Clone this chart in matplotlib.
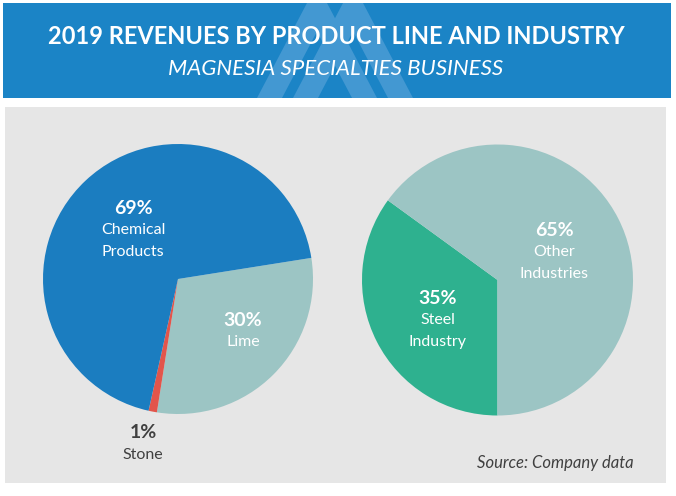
import matplotlib
matplotlib.use("Agg")
import matplotlib.pyplot as plt
from matplotlib.patches import Rectangle, Polygon

# ---- data ----
product_labels = ["Lime", "Stone", "Chemical\nProducts"]
product_values = [30, 1, 69]
industry_labels = ["Steel\nIndustry", "Other\nIndustries"]
industry_values = [35, 65]

title = "2019 REVENUES BY PRODUCT LINE AND INDUSTRY"
subtitle = "MAGNESIA SPECIALTIES BUSINESS"
source = "Source: Company data"

# ---- style ----
BAND = "#1b84c6"
WATER = "#4398d2"
PANEL = "#e6e6e6"
C_CHEM = "#1b7dc0"
C_LIME = "#9cc5c4"
C_STONE = "#e2554b"
C_STEEL = "#2eb18f"
DARK = "#404040"
FONT = "Lato"

W, H = 676, 496
fig = plt.figure(figsize=(W / 100, H / 100), dpi=100)
fig.patch.set_facecolor("white")

bg = fig.add_axes([0, 0, 1, 1])
bg.set_xlim(0, W)
bg.set_ylim(H, 0)
bg.axis("off")

bg.add_patch(Rectangle((3, 3), 668, 95, facecolor=BAND, edgecolor="none"))
for x0 in (257, 293):
    pts = [(x0, 98), (x0 + 50, 3), (x0 + 70, 3), (x0 + 120, 98),
           (x0 + 95, 98), (x0 + 60, 31.5), (x0 + 25, 98)]
    bg.add_patch(Polygon(pts, closed=True, facecolor=WATER, edgecolor="none"))
bg.add_patch(Rectangle((5, 107), 661, 376, facecolor=PANEL, edgecolor="none"))


def pie_axes(cx, cy, r):
    ax = fig.add_axes([(cx - r) / W, (H - cy - r) / H, 2 * r / W, 2 * r / H])
    ax.axis("off")
    return ax


ax1 = pie_axes(178, 279, 135)
ax1.pie(product_values, colors=[C_LIME, C_STONE, C_CHEM], startangle=9,
        counterclock=False, radius=1, center=(0, 0), frame=False,
        wedgeprops=dict(linewidth=0))
ax1.set_xlim(-1, 1)
ax1.set_ylim(-1, 1)

ax2 = pie_axes(497.5, 280, 135.5)
ax2.pie(industry_values, colors=[C_STEEL, C_LIME], startangle=270,
        counterclock=False, radius=1, center=(0, 0), frame=False,
        wedgeprops=dict(linewidth=0))
ax2.set_xlim(-1, 1)
ax2.set_ylim(-1, 1)

# overlay for text, drawn above the pies
ov = fig.add_axes([0, 0, 1, 1])
ov.set_xlim(0, W)
ov.set_ylim(H, 0)
ov.axis("off")
ov.patch.set_alpha(0)

ov.text(336, 36, title, ha="center", va="center", color="white",
        fontsize=17, fontweight="bold", family=FONT)
ov.text(336, 69, subtitle, ha="center", va="center", color="white",
        fontsize=16, style="italic", family=FONT)
ov.text(634, 463, source, ha="right", va="center", color=DARK,
        fontsize=12, style="italic", family=FONT)


def label(x, y, pct, name, color):
    ov.text(x, y, f"{pct}%", ha="center", va="center", color=color,
            fontsize=14, fontweight="bold", family=FONT)
    for i, line in enumerate(name.split("\n")):
        ov.text(x, y + 22 * (i + 1), line, ha="center", va="center",
                color=color, fontsize=11.5, family=FONT)


label(133, 208, product_values[2], product_labels[2], "white")
label(243, 320, product_values[0], product_labels[0], "white")
label(143, 433, product_values[1], product_labels[1], DARK)
label(554, 230, industry_values[1], industry_labels[1], "white")
label(438, 298, industry_values[0], industry_labels[0], "white")

fig.savefig("out.png", dpi=100)
